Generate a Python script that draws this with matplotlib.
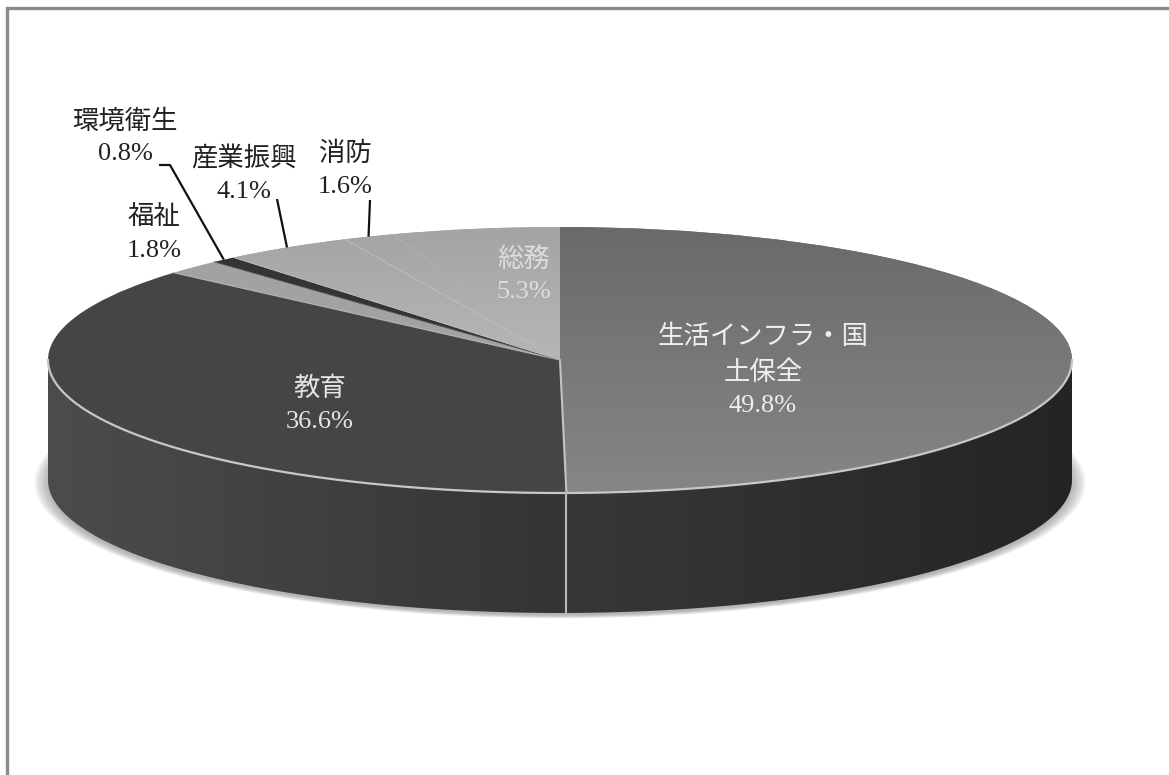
import numpy as np
import matplotlib
matplotlib.use('Agg')
import matplotlib.pyplot as plt
from matplotlib.colors import LinearSegmentedColormap
from matplotlib.patches import Ellipse, Polygon

plt.rcParams['font.family'] = ['Liberation Serif', 'Noto Sans CJK JP', 'DejaVu Sans']

# 歳出の内訳 (%)
labels = ['生活インフラ・国\n土保全', '教育', '福祉', '環境衛生', '産業振興', '消防', '総務']
values = [49.8, 36.6, 1.8, 0.8, 4.1, 1.6, 5.3]

top_colors = ['#747474', '#454545', '#a2a2a2', '#343434', '#9c9c9c', '#a4a4a4', '#adadad']

W, H = 1169, 775
CX, CY, RX, RY = 560, 360, 512, 133
DEPTH = 120 / RY


def to_data(x, y):
    # 画面ピクセル -> 楕円単位
    return (x - CX) / RX, (CY - y) / RY


def angle_at(pct):
    # 12時から時計回りの % を数学角 (rad) に変換
    return np.deg2rad(90 - 3.6 * pct)


def rim(pct):
    t = angle_at(pct)
    return np.cos(t), np.sin(t)


fig = plt.figure(figsize=(W / 100, H / 100), dpi=100)
ax = fig.add_axes([0, 0, 1, 1])

edges = np.concatenate([[0], np.cumsum(values)])
mids = (edges[:-1] + edges[1:]) / 2

x0, y1 = to_data(0, 0)
x1, y0 = to_data(W, H)

# 台の下の影
for scale, a in zip(np.linspace(1.026, 1.0, 7), [0.10] * 7):
    ax.add_patch(Ellipse((0, -DEPTH - 0.02), 2 * scale, 2 * scale * 0.995,
                         facecolor='#777777', edgecolor='none', alpha=a, zorder=1))

# 側面 (手前半分だけ見える)
wall_ramps = {0: ('#383838', '#242424'), 1: ('#4c4c4c', '#343434')}
for i, (c_left, c_right) in wall_ramps.items():
    t_start = np.rad2deg(angle_at(edges[i]))
    t_end = np.rad2deg(angle_at(edges[i + 1]))
    lo = max(t_end, -180)
    hi = min(t_start, 0)
    t = np.deg2rad(np.linspace(lo, hi, 200))
    top = np.column_stack([np.cos(t), np.sin(t)])
    bottom = top[::-1] - [0, DEPTH]
    wall = Polygon(np.vstack([top, bottom]), closed=True, facecolor='none',
                   edgecolor='none', zorder=2)
    ax.add_patch(wall)
    cmap = LinearSegmentedColormap.from_list('wall', [c_left, c_right])
    im = ax.imshow(np.linspace(0, 1, 256).reshape(1, -1), cmap=cmap, aspect='auto',
                   extent=[top[:, 0].min(), top[:, 0].max(), -1 - DEPTH, 1], zorder=2)
    im.set_clip_path(wall)

# 上面
wedges, _ = ax.pie(values, colors=top_colors, startangle=90, counterclock=False,
                   radius=1, center=(0, 0), frame=True,
                   wedgeprops={'edgecolor': 'none', 'zorder': 3})
for w in wedges:
    w.set_zorder(3)

# 生活インフラの面は手前ほど少し明るい
cmap = LinearSegmentedColormap.from_list('top', ['#6a6a6a', '#868686'])
im = ax.imshow(np.linspace(0, 1, 256).reshape(-1, 1), cmap=cmap, aspect='auto',
               extent=[-1, 1, -1, 1], zorder=3.1)
im.set_clip_path(wedges[0])

# 総務〜産業振興の面も手前側を明るく
cmap = LinearSegmentedColormap.from_list('top2', ['#a4a4a4', '#b6b6b6'])
for k in (4, 5, 6):
    im = ax.imshow(np.linspace(0, 1, 64).reshape(-1, 1), cmap=cmap, aspect='auto',
                   extent=[-1, 1, 0, 1], zorder=3.1)
    im.set_clip_path(wedges[k])

# 手前の縁と境界の白線
t = np.linspace(0, -np.pi, 400)
ax.plot(np.cos(t), np.sin(t), color='#c8c8c8', lw=1.6, zorder=4)

bx, by = rim(edges[1])
ax.plot([0, bx], [0, by], color='#c4c4c4', lw=1.5, zorder=4)
ax.plot([bx, bx], [by, by - DEPTH], color='#b8b8b8', lw=1.5, zorder=4)
for pct, col, lw in [(edges[2], '#b0b0b0', 0.9), (edges[3], '#555555', 0.6),
                     (edges[4], '#bcbcbc', 0.6), (edges[5], '#c0c0c0', 0.6),
                     (edges[6], '#b4b4b4', 0.5)]:
    px, py = rim(pct)
    ax.plot([0, px], [0, py], color=col, lw=lw, zorder=4)

# 引出線 (環境衛生, 産業振興, 消防)
leaders = {3: [(159, 165), (170, 165)], 4: [(277, 199)], 5: [(370, 200)]}
for i, pts in leaders.items():
    xs = [to_data(*p)[0] for p in pts] + [rim(mids[i])[0]]
    ys = [to_data(*p)[1] for p in pts] + [rim(mids[i])[1]]
    ax.plot(xs, ys, color='#111111', lw=1.6, zorder=5, solid_capstyle='butt')

# ラベル
label_pos = [(763, 371), (320, 405), (154, 234), (125, 137), (244, 175), (345, 170), (524, 275)]
label_colors = ['#eeeeee', '#e4e4e4', '#222222', '#222222', '#222222', '#222222', '#dddddd']
for name, val, pos, col in zip(labels, values, label_pos, label_colors):
    tx, ty = to_data(*pos)
    ax.text(tx, ty, f'{name}\n{val:.1f}%', ha='center', va='center', color=col,
            fontsize=19, linespacing=1.58, zorder=6)

# 外枠 (上と左のみ)
fx, fy = to_data(7, 8)
ax.plot([fx, fx, x1], [y0, fy, fy], color='#8a8a8a', lw=2.4, zorder=6,
        solid_joinstyle='miter')

ax.set_aspect('auto')
ax.set_xlim(x0, x1)
ax.set_ylim(y0, y1)
ax.axis('off')

fig.savefig('out.png', dpi=100, facecolor='white')
